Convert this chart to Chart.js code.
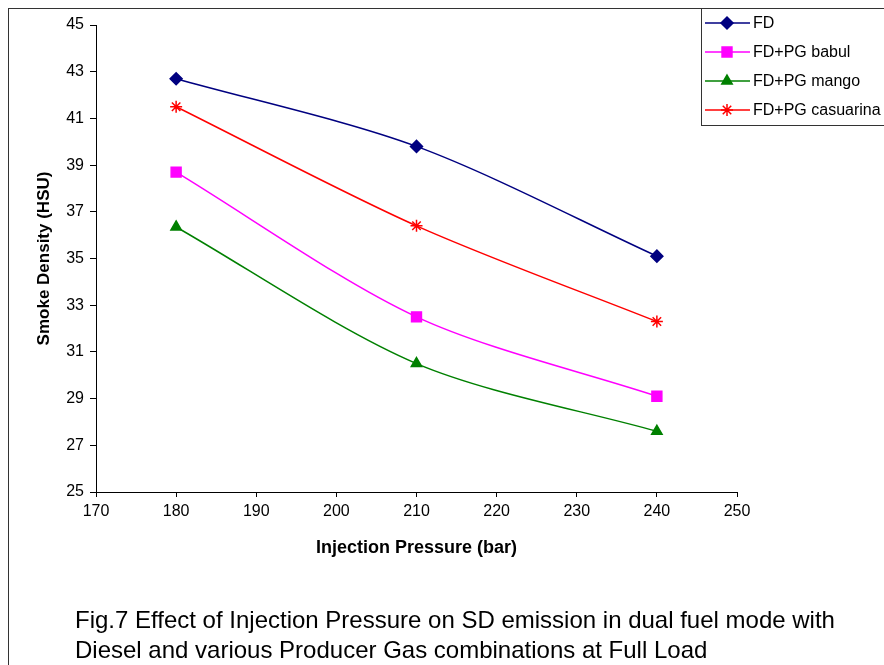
<!DOCTYPE html>
<html>
<head>
<meta charset="utf-8">
<script src="https://cdn.jsdelivr.net/npm/chart.js@4/dist/chart.umd.min.js"></script>
<style>
  html, body { margin: 0; padding: 0; background: #fff; }
  #wrap { position: relative; width: 884px; height: 665px; }
  #caption {
    position: absolute; left: 75px; top: 605px;
    font-family: "Liberation Sans", Arial, sans-serif; font-size: 24px;
    line-height: 30px; color: #000; white-space: nowrap;
  }
</style>
</head>
<body>
<div id="wrap">
  <canvas id="chart" width="884" height="665"></canvas>
  <div id="caption">Fig.7 Effect of Injection Pressure on SD emission in dual fuel mode with<br>Diesel and various Producer Gas combinations at Full Load</div>
</div>
<script>
// Data
const pressures = [180, 210, 240];
const fd = [42.7, 39.8, 35.1];
const fdBabul = [38.7, 32.5, 29.1];
const fdMango = [36.35, 30.5, 27.6];
const fdCasuarina = [41.5, 36.4, 32.3];

const xTicks = [170, 180, 190, 200, 210, 220, 230, 240, 250];
const yTicks = [25, 27, 29, 31, 33, 35, 37, 39, 41, 43, 45];

const toPoints = vals => vals.map((v, i) => ({ x: pressures[i], y: v }));

const series = [
    { label: 'FD', data: fd, color: '#000080', style: 'rectRot', radius: 6 },
    { label: 'FD+PG babul', data: fdBabul, color: '#FF00FF', style: 'rect', radius: 7 },
    { label: 'FD+PG mango', data: fdMango, color: '#008000', style: 'triangle', radius: 6 },
    { label: 'FD+PG casuarina', data: fdCasuarina, color: '#FF0000', style: 'star', radius: 6 }
];

const font = '"Liberation Sans", Arial, sans-serif';

// Outer frame and the floating legend box
const framePlugin = {
    id: 'frame',
    beforeDraw(chart) {
        const ctx = chart.ctx;
        ctx.save();
        ctx.fillStyle = '#fff';
        ctx.fillRect(0, 0, chart.width, chart.height);
        ctx.strokeStyle = '#333';
        ctx.lineWidth = 1;
        ctx.strokeRect(8.5, 8.5, 1000, 1000);
        ctx.restore();
    },
    afterDraw(chart) {
        const ctx = chart.ctx;
        ctx.save();
        ctx.fillStyle = '#fff';
        ctx.fillRect(702, 9, 200, 116);
        ctx.strokeStyle = '#333';
        ctx.lineWidth = 1;
        ctx.strokeRect(701.5, 8.5, 300, 117);
        ctx.font = '16px ' + font;
        ctx.textBaseline = 'middle';
        series.forEach((s, i) => {
            const y = 23 + i * 29;
            ctx.strokeStyle = s.color;
            ctx.fillStyle = s.color;
            ctx.lineWidth = 1.5;
            ctx.beginPath();
            ctx.moveTo(705, y);
            ctx.lineTo(750, y);
            ctx.stroke();
            Chart.helpers.drawPoint(ctx, {
                pointStyle: s.style, radius: s.radius, rotation: 0, borderWidth: 1.5
            }, 727, y);
            ctx.fillStyle = '#000';
            ctx.fillText(s.label, 753, y + 1);
        });
        ctx.restore();
    }
};

new Chart(document.getElementById('chart'), {
    type: 'line',
    data: {
        datasets: series.map(s => ({
            label: s.label,
            data: toPoints(s.data),
            borderColor: s.color,
            backgroundColor: s.color,
            borderWidth: 1.5,
            pointStyle: s.style,
            pointRadius: s.radius,
            pointBorderWidth: 1.5,
            tension: 0.3,
            fill: false
        }))
    },
    options: {
        responsive: false,
        animation: false,
        layout: { padding: { left: 30, top: 25, right: 147, bottom: 103 } },
        plugins: {
            legend: { display: false },
            tooltip: { enabled: false }
        },
        scales: {
            x: {
                type: 'linear',
                min: 170,
                max: 250,
                afterBuildTicks: s => { s.ticks = xTicks.map(v => ({ value: v })); },
                afterFit: s => { s.height = 70; },
                border: { display: true, color: '#000', width: 1 },
                grid: { drawOnChartArea: false, drawTicks: true, tickLength: 5, color: '#000' },
                ticks: { color: '#000', font: { family: font, size: 16 }, padding: 5 },
                title: {
                    display: true, text: 'Injection Pressure (bar)', color: '#000',
                    font: { family: font, size: 18, weight: 'bold' }, padding: { top: 4, bottom: 3 }
                }
            },
            y: {
                min: 25,
                max: 45,
                afterBuildTicks: s => { s.ticks = yTicks.map(v => ({ value: v })); },
                afterFit: s => { s.width = 66; },
                border: { display: true, color: '#000', width: 1 },
                grid: { drawOnChartArea: false, drawTicks: true, tickLength: 6, color: '#000' },
                ticks: { color: '#000', font: { family: font, size: 16 }, padding: 6 },
                title: {
                    display: true, text: 'Smoke Density (HSU)', color: '#000',
                    font: { family: font, size: 17, weight: 'bold' }, padding: { top: 4, bottom: 4 }
                }
            }
        }
    },
    plugins: [framePlugin]
});
</script>
</body>
</html>
